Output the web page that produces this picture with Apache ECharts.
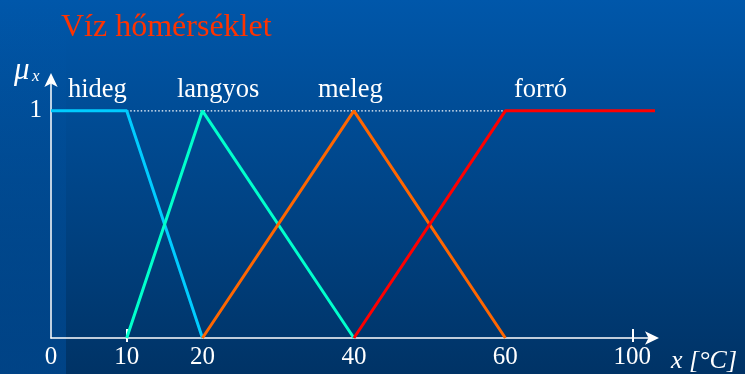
<!DOCTYPE html>
<html>
<head>
<meta charset="utf-8">
<script src="https://cdn.jsdelivr.net/npm/echarts@6/dist/echarts.min.js"></script>
<style>
  html, body { margin: 0; padding: 0; }
  #chart { width: 745px; height: 374px; }
</style>
</head>
<body>
<div id="chart"></div>
<script>
// membership functions, [x, mu]
const hideg = [[0, 1], [10, 1], [20, 0]];
const langyos = [[10, 0], [20, 1], [40, 0]];
const meleg = [[20, 0], [40, 1], [60, 0]];
const forro = [[40, 0], [60, 1], [103, 1]];
const oneLine = [[10, 1], [60, 1]];
const xLabels = [0, 10, 20, 40, 60, 100];
const xTicks = [10, 100];
const yLabels = [1];

const serif = '"Liberation Serif", "DejaVu Serif", serif';

const myChart = echarts.init(document.getElementById('chart'));

const xBase = {
  type: 'value',
  min: 0,
  max: 103,
  // 60..100 is squeezed on the slide
  breaks: [{ start: 62, end: 98, gap: '16%' }],
  breakArea: {
    itemStyle: { color: 'transparent', borderColor: 'transparent', borderWidth: 0, opacity: 0 },
    zigzagAmplitude: 0
  },
  splitLine: { show: false }
};

const option = {
  backgroundColor: {
    type: 'linear', x: 0, y: 0, x2: 0, y2: 1,
    colorStops: [
      { offset: 0, color: '#0057aa' },
      { offset: 1, color: '#003366' }
    ]
  },
  animation: false,
  grid: { left: 51, right: 90, top: 79, bottom: 36 },
  graphic: [
    {
      type: 'rect', left: 0, top: 0, z: -1,
      shape: { width: 66, height: 374 },
      style: {
        fill: {
          type: 'linear', x: 0, y: 0, x2: 0, y2: 1,
          colorStops: [
            { offset: 0, color: 'rgba(0,90,175,0)' },
            { offset: 1, color: 'rgba(0,80,160,0.55)' }
          ]
        }
      }
    },
    { type: 'text', left: 61, top: 12, style: { text: 'Víz hőmérséklet', fill: '#ff3300', font: '32px ' + serif } },
    { type: 'text', left: 14, top: 55, style: { text: 'μ', fill: '#fff', font: 'italic 31px ' + serif } },
    { type: 'text', left: 32, top: 68, style: { text: 'x', fill: '#fff', font: 'italic 17px ' + serif } },
    { type: 'text', left: 68, top: 77, style: { text: 'hideg', fill: '#fff', font: '26.5px ' + serif } },
    { type: 'text', left: 177, top: 77, style: { text: 'langyos', fill: '#fff', font: '26.5px ' + serif } },
    { type: 'text', left: 318, top: 77, style: { text: 'meleg', fill: '#fff', font: '26.5px ' + serif } },
    { type: 'text', left: 514, top: 77, style: { text: 'forró', fill: '#fff', font: '26.5px ' + serif } },
    { type: 'text', left: 671, top: 348, style: { text: 'x [°C]', fill: '#fff', font: 'italic 26px ' + serif } }
  ],
  xAxis: [
    Object.assign({}, xBase, {
      axisLine: { show: false },
      axisTick: { show: true, customValues: xTicks, inside: false, length: 4, lineStyle: { color: '#fff', width: 2 } },
      axisLabel: { customValues: xLabels, color: '#fff', fontFamily: serif, fontSize: 25, margin: 7 }
    }),
    Object.assign({}, xBase, {
      position: 'bottom',
      axisLine: { show: false },
      axisTick: { show: true, customValues: xTicks, inside: true, length: 9, lineStyle: { color: '#fff', width: 2 } },
      axisLabel: { show: false }
    }),
    {
      // plain axis only for the continuous arrow line
      type: 'value',
      min: 0,
      max: 103,
      position: 'bottom',
      axisLine: {
        show: true,
        symbol: ['none', 'arrow'],
        symbolSize: [10, 14],
        symbolOffset: [0, 4],
        lineStyle: { color: '#fff', width: 1.5 }
      },
      axisTick: { show: false },
      axisLabel: { show: false },
      splitLine: { show: false }
    }
  ],
  yAxis: {
    type: 'value',
    min: 0,
    max: 1.14,
    splitLine: { show: false },
    axisLine: {
      show: true,
      symbol: ['none', 'arrow'],
      symbolSize: [10, 14],
      symbolOffset: [0, 6],
      lineStyle: { color: '#fff', width: 1.5 }
    },
    axisTick: { show: false },
    axisLabel: { customValues: yLabels, color: '#fff', fontFamily: serif, fontSize: 25, margin: 9 }
  },
  series: [
    {
      type: 'line', data: oneLine, symbol: 'none', z: 1,
      lineStyle: { color: '#fff', width: 1.2, type: [1.5, 2] }
    },
    { name: 'hideg', type: 'line', data: hideg, symbol: 'none', lineStyle: { color: '#00ccff', width: 3 } },
    { name: 'langyos', type: 'line', data: langyos, symbol: 'none', lineStyle: { color: '#00ffcc', width: 3 } },
    { name: 'meleg', type: 'line', data: meleg, symbol: 'none', lineStyle: { color: '#ff6600', width: 3 } },
    { name: 'forró', type: 'line', data: forro, symbol: 'none', lineStyle: { color: '#ff0000', width: 3 } }
  ]
};

myChart.setOption(option);
window.addEventListener('resize', function () {
  myChart.resize();
});
</script>
</body>
</html>
